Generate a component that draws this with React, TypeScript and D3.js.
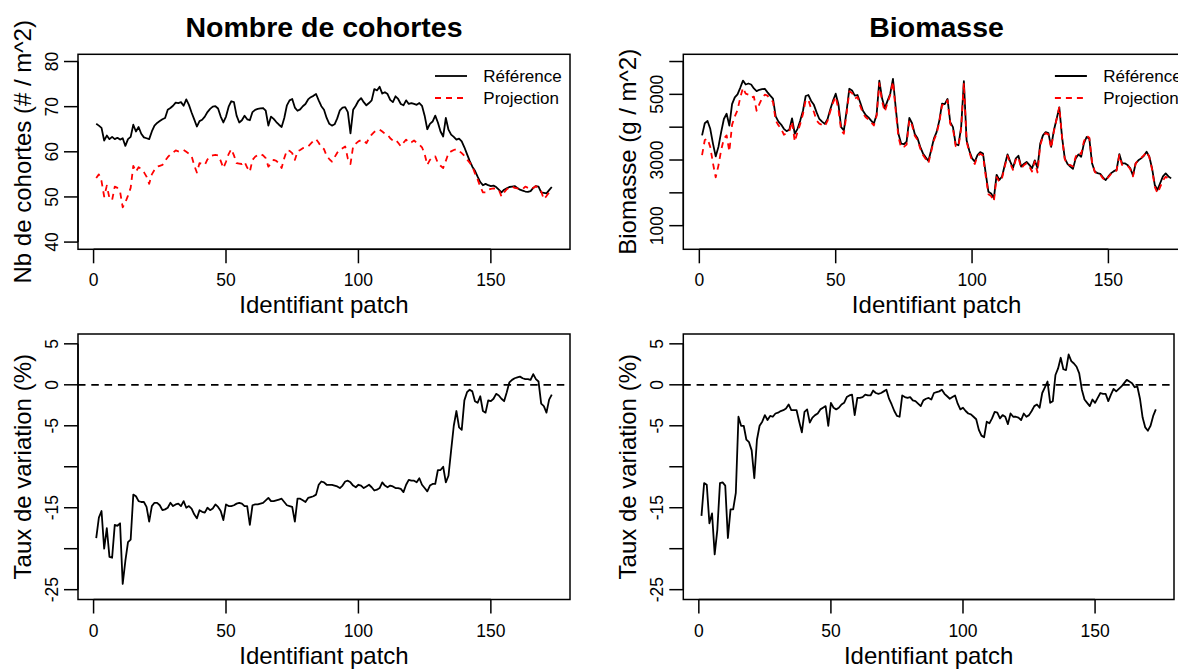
import React from "react";
import * as d3 from "d3";

// ---------- DATA ----------
const cohortRef = [66.2,65.8,65.3,62.5,63.6,62.8,63.3,62.8,63.1,62.7,
63.0,61.3,62.8,63.3,66.0,64.5,65.5,64.0,63.2,63.0,
62.8,64.5,65.8,66.4,66.8,67.2,67.5,69.3,69.7,70.2,
70.9,70.8,71.0,70.2,71.6,70.4,68.7,67.2,65.6,66.8,
67.1,67.8,68.8,69.5,70.0,70.1,69.6,67.8,66.5,67.8,
70.0,71.2,71.0,68.0,66.5,67.0,68.0,67.2,67.0,68.8,
69.3,69.5,69.6,69.7,69.1,65.8,67.8,67.3,66.6,66.0,
65.5,67.5,70.3,71.4,71.7,69.8,69.1,69.4,70.1,70.6,
71.6,72.1,72.4,72.8,71.4,70.1,69.3,67.5,66.2,65.8,
66.1,67.4,69.2,69.8,69.9,68.8,64.1,69.3,70.2,71.3,
71.9,71.0,70.3,70.8,71.4,73.9,73.6,74.4,72.9,73.2,
72.8,71.5,71.0,72.3,71.7,70.6,70.3,71.4,70.6,70.8,
70.6,70.4,70.8,70.2,68.0,65.0,66.2,66.7,68.0,66.5,
64.5,63.4,67.5,64.9,63.8,63.3,62.7,62.9,62.3,61.0,
59.5,58.0,56.7,55.8,54.5,53.3,52.6,52.9,52.6,52.4,
52.5,52.2,51.6,51.0,51.6,51.9,52.2,52.3,52.4,52.0,
51.6,51.4,51.2,51.1,51.3,52.0,52.4,52.3,51.0,50.9,
50.8,51.5,52.2];

const cohortProj = [54.2,55.0,53.5,50.1,52.5,49.7,49.3,52.3,52.0,51.2,
47.7,48.8,50.3,52.0,56.9,55.6,56.6,56.2,55.5,54.5,
52.9,55.0,56.0,56.7,56.9,57.1,58.0,58.8,59.4,59.8,
60.3,60.1,60.2,60.4,60.0,59.6,59.1,57.0,55.4,57.5,
57.3,57.1,58.3,59.0,59.2,59.3,59.2,58.0,56.4,57.8,
59.5,60.6,59.2,57.5,57.4,57.3,57.8,56.5,55.6,58.2,
58.9,59.3,59.5,59.2,58.6,56.7,57.5,58.2,58.0,57.4,
56.4,58.6,60.3,60.2,59.7,58.2,60.1,60.4,60.8,61.0,
61.2,61.8,62.4,62.8,62.0,61.0,60.6,59.1,58.4,57.8,
58.8,59.8,60.4,60.8,61.2,58.5,57.3,61.2,61.8,62.3,
62.6,62.5,61.9,63.0,63.8,64.4,64.8,64.9,64.5,64.0,
63.8,63.0,62.5,62.7,62.0,61.2,62.0,62.7,62.0,62.1,
62.5,62.0,61.6,61.0,59.5,57.1,58.2,58.8,59.0,57.5,
56.9,56.4,58.0,59.7,60.1,60.4,60.6,60.2,59.7,59.1,
58.3,57.6,56.8,55.2,53.9,52.3,51.0,51.0,51.6,51.8,
51.9,51.8,51.6,50.1,51.0,51.7,52.1,52.3,52.0,51.9,
51.8,51.7,52.3,52.0,51.7,52.0,52.4,51.8,51.2,49.5,
50.2,51.0,51.7];

const cohortVar = [-18.7,-16.2,-15.4,-20.0,-17.5,-21.0,-21.1,-17.1,-17.2,-16.9,
-24.3,-21.5,-19.2,-18.9,-13.4,-13.6,-14.2,-14.3,-14.3,-14.9,
-16.7,-14.8,-14.4,-14.4,-14.7,-15.3,-15.2,-15.0,-14.4,-14.8,
-14.6,-14.5,-14.8,-14.2,-15.0,-14.8,-15.1,-15.8,-16.3,-15.3,
-15.5,-15.6,-15.0,-15.3,-15.1,-14.6,-14.9,-15.4,-16.5,-14.6,
-14.8,-14.8,-14.7,-14.5,-14.4,-14.5,-14.8,-14.8,-17.1,-14.7,
-14.6,-14.6,-14.5,-14.4,-14.1,-13.8,-14.2,-14.2,-14.1,-14.0,
-13.9,-14.3,-14.7,-14.8,-14.9,-16.7,-13.9,-13.9,-14.1,-14.3,
-13.8,-13.7,-13.6,-13.4,-12.2,-11.8,-11.9,-12.2,-12.2,-12.2,
-12.3,-12.4,-12.6,-12.3,-11.8,-11.7,-11.9,-12.3,-12.5,-12.2,
-12.3,-12.6,-12.4,-12.2,-12.5,-12.9,-12.8,-12.6,-11.9,-12.3,
-12.5,-12.3,-12.4,-12.6,-12.6,-12.7,-13.1,-12.2,-11.6,-11.7,
-11.7,-11.9,-11.4,-12.2,-12.6,-13.0,-12.3,-12.1,-12.1,-10.4,
-10.4,-10.0,-11.9,-11.1,-8.0,-5.0,-3.2,-5.2,-5.5,-1.9,
-0.9,-0.6,-0.8,-2.0,-2.2,-1.4,-3.2,-3.4,-1.9,-2.0,
-1.7,-1.1,-1.3,-1.7,-2.0,-0.9,0.3,0.6,0.8,0.9,
1.0,0.8,0.7,0.7,0.6,1.3,0.7,0.4,-2.3,-2.6,
-3.4,-1.8,-1.2];

const biomRef = [3750,4120,4190,3950,3500,3110,3400,3850,4250,4410,
4050,4700,4910,5000,5200,5420,5300,5330,5300,5180,
5100,5140,5160,5170,5060,4960,4870,4330,4170,4080,
3950,3880,3920,4270,3800,3950,4200,4500,4950,4980,
4800,4680,4450,4250,4170,4100,4240,4540,4800,5020,
4700,4000,3900,4500,5170,5120,4960,4980,4750,4500,
4370,4300,4200,4110,4380,5420,4880,4580,4800,5020,
5470,4600,3800,3500,3480,3560,4280,4120,3790,3660,
3400,3200,3080,2970,3300,3650,3850,4200,4720,4700,
4860,4150,4000,3480,3450,4000,5400,3600,3280,3050,
2950,3150,3240,3200,2600,2030,1980,1830,2550,2390,
2500,2850,3170,2950,2760,3040,3130,2800,2880,2940,
2850,2750,2990,2760,3500,3750,3850,3820,3400,3900,
4250,4600,3700,3050,2880,2800,2730,3050,3170,3100,
3500,3700,3650,2900,2650,2600,2580,2470,2390,2500,
2600,2660,2700,3180,2900,2900,2850,2750,2530,2900,
2990,3050,3130,3250,3100,2750,2240,2090,2300,2500,
2590,2500,2440];

const biomProj = [3150,3610,3650,3400,2900,2470,2830,3300,3650,3750,
3260,4070,4330,4520,4900,5200,5020,4990,4900,4930,
4500,4700,4880,4990,4960,4850,4780,4200,4060,3950,
3770,3810,3880,4170,3560,3850,4100,4400,4830,4830,
4560,4470,4200,4110,4070,4030,4190,4480,4740,4930,
4550,3900,3800,4420,5090,5040,4870,4920,4650,4420,
4300,4240,4150,4050,4350,5340,4790,4470,4740,4980,
5390,4500,3700,3380,3400,3470,4220,4060,3740,3610,
3350,3150,3030,2900,3250,3600,3800,4150,4680,4660,
4820,4100,3960,3420,3400,3950,5350,3560,3240,2980,
2880,3120,3190,3140,2520,1960,1900,1740,2480,2340,
2450,2800,3130,2900,2700,3000,3090,2740,2840,2900,
2800,2650,2960,2620,3450,3720,3820,3780,3360,3870,
4240,4620,3680,3030,2850,2850,2800,3100,3240,3180,
3560,3740,3680,2930,2640,2560,2560,2440,2370,2480,
2580,2620,2680,3150,2850,2850,2830,2730,2500,2900,
2995,3065,3140,3250,3090,2720,2180,1990,2180,2380,
2490,2430,2370];

const biomVar = [-16.0,-12.0,-12.2,-16.9,-15.7,-20.7,-17.7,-12.0,-11.9,-12.3,
-18.7,-15.2,-15.2,-13.2,-3.9,-5.0,-5.0,-6.7,-7.0,-8.0,
-11.4,-6.7,-5.0,-4.5,-3.7,-4.3,-3.8,-3.9,-3.5,-3.4,
-3.2,-3.1,-2.9,-2.4,-3.1,-3.1,-3.1,-4.5,-5.8,-3.3,
-3.0,-4.6,-4.0,-3.7,-3.5,-3.0,-2.8,-2.6,-5.0,-2.2,
-2.8,-3.0,-2.8,-2.4,-2.2,-1.5,-1.3,-1.2,-3.7,-1.6,
-1.6,-1.5,-1.2,-1.3,-1.3,-0.7,-1.0,-1.1,-1.0,-0.8,
-0.6,-1.7,-2.4,-3.2,-3.8,-3.9,-1.3,-1.5,-1.6,-1.5,
-1.9,-2.0,-2.3,-2.6,-1.9,-1.7,-1.6,-1.8,-1.0,-0.9,
-0.8,-0.6,-1.1,-1.4,-1.7,-1.5,-1.3,-2.3,-3.0,-2.8,
-3.2,-3.5,-3.6,-3.9,-4.2,-5.5,-6.2,-6.4,-4.5,-4.7,
-4.1,-3.3,-3.4,-4.1,-3.7,-3.9,-4.8,-3.5,-3.9,-3.9,
-4.0,-4.3,-3.5,-3.9,-3.7,-3.2,-2.6,-2.4,-2.8,-1.0,
-0.3,0.4,-2.2,-2.0,1.2,2.0,3.3,1.9,1.8,3.7,
2.9,2.6,2.2,1.4,-0.6,-1.8,-2.2,-2.6,-1.8,-2.2,
-1.6,-1.0,-1.1,-1.1,-2.0,-1.2,-0.5,-0.8,-0.5,-0.2,
0.2,0.6,0.4,0.2,-0.3,-0.2,-1.7,-4.0,-5.2,-5.6,
-5.0,-3.8,-3.0];

const xTicks = [0, 50, 100, 150];
const cohortTicks = [40, 50, 60, 70, 80];
const cohortTickLabels = ["40", "50", "60", "70", "80"];
const biomTicks = [1000, 2000, 3000, 4000, 5000, 6000];
const biomTickLabels = ["1000", "", "3000", "", "5000", ""];
const varTicks = [-25, -20, -15, -10, -5, 0, 5];
const varTickLabels = ["-25", "", "-15", "", "-5", "0", "5"];
const legendLabels = ["Référence", "Projection"];

const FONT = "'Liberation Sans', Arial, Helvetica, sans-serif";

type Series = { values: number[]; color: string; dash?: string };

function Panel(props: {
  box: { l: number; r: number; t: number; b: number };
  yDomain: [number, number];
  yTicks: number[];
  yTickLabels: string[];
  series: Series[];
  title?: string;
  ylabel: string;
  legend?: boolean;
  hline?: boolean;
}) {
  const { box, yDomain, yTicks, yTickLabels, series, title, ylabel, legend, hline } = props;
  const x = d3.scaleLinear().domain([-5.88, 179.88]).range([box.l, box.r]);
  const y = d3.scaleLinear().domain(yDomain).range([box.b, box.t]);
  const line = d3
    .line<number>()
    .x((_, i) => x(i + 1))
    .y((d) => y(d));
  const tick = 14;
  const sw = 1.5;
  return (
    <g fontFamily={FONT}>
      {title && (
        <text x={(box.l + box.r) / 2} y={37} textAnchor="middle" fontSize={28.5} fontWeight="bold">
          {title}
        </text>
      )}
      {hline && (
        <line x1={box.l} x2={box.r} y1={y(0)} y2={y(0)} stroke="#000" strokeWidth={1.8} strokeDasharray="7.5,5.8" />
      )}
      {series.map((s, k) => (
        <path
          key={k}
          d={line(s.values) || ""}
          fill="none"
          stroke={s.color}
          strokeWidth={1.8}
          strokeDasharray={s.dash}
          strokeLinejoin="round"
        />
      ))}
      <rect x={box.l} y={box.t} width={box.r - box.l} height={box.b - box.t} fill="none" stroke="#000" strokeWidth={sw} />
      {/* x axis */}
      <line x1={x(xTicks[0])} x2={x(xTicks[xTicks.length - 1])} y1={box.b} y2={box.b} stroke="#000" strokeWidth={sw} />
      {xTicks.map((t) => (
        <g key={t}>
          <line x1={x(t)} x2={x(t)} y1={box.b} y2={box.b + tick} stroke="#000" strokeWidth={sw} />
          <text x={x(t)} y={box.b + 37} textAnchor="middle" fontSize={17.5}>
            {t}
          </text>
        </g>
      ))}
      <text x={(box.l + box.r) / 2} y={box.b + 64} textAnchor="middle" fontSize={24}>
        Identifiant patch
      </text>
      {/* y axis */}
      <line x1={box.l} x2={box.l} y1={y(yTicks[0])} y2={y(yTicks[yTicks.length - 1])} stroke="#000" strokeWidth={sw} />
      {yTicks.map((t, k) => (
        <g key={t}>
          <line x1={box.l - tick} x2={box.l} y1={y(t)} y2={y(t)} stroke="#000" strokeWidth={sw} />
          {yTickLabels[k] && (
            <text
              transform={`translate(${box.l - 20},${y(t)}) rotate(-90)`}
              textAnchor="middle"
              fontSize={17.5}
            >
              {yTickLabels[k]}
            </text>
          )}
        </g>
      ))}
      <text
        transform={`translate(${box.l - 47},${(box.t + box.b) / 2}) rotate(-90)`}
        textAnchor="middle"
        fontSize={24}
      >
        {ylabel}
      </text>
      {legend && (
        <g>
          {legendLabels.map((lab, k) => (
            <g key={lab}>
              <line
                x1={box.r - 135}
                x2={box.r - 103}
                y1={76 + k * 22}
                y2={76 + k * 22}
                stroke={series[k].color}
                strokeWidth={1.8}
                strokeDasharray={series[k].dash}
              />
              <text x={box.r - 86.7} y={76 + k * 22} dominantBaseline="central" fontSize={17}>
                {lab}
              </text>
            </g>
          ))}
        </g>
      )}
    </g>
  );
}

export default function App() {
  const dash = "6,5";
  return (
    <div style={{ position: "absolute", left: 0, top: 0, width: 1178, height: 670, overflow: "hidden", background: "#fff" }}>
      <svg width={1178} height={670} viewBox="0 0 1178 670">
        <rect width={1178} height={670} fill="#fff" />
        <Panel
          box={{ l: 78, r: 570, t: 54.3, b: 249.3 }}
          yDomain={[38.4, 81.6]}
          yTicks={cohortTicks}
          yTickLabels={cohortTickLabels}
          series={[
            { values: cohortRef, color: "#000" },
            { values: cohortProj, color: "#ff0000", dash },
          ]}
          title="Nombre de cohortes"
          ylabel="Nb de cohortes (# / m^2)"
          legend
        />
        <Panel
          box={{ l: 683.3, r: 1189.9, t: 54.3, b: 249.3 }}
          yDomain={[280, 6220]}
          yTicks={biomTicks}
          yTickLabels={biomTickLabels}
          series={[
            { values: biomRef, color: "#000" },
            { values: biomProj, color: "#ff0000", dash },
          ]}
          title="Biomasse"
          ylabel="Biomasse (g / m^2)"
          legend
        />
        <Panel
          box={{ l: 78, r: 570, t: 334, b: 599.5 }}
          yDomain={[-26.2, 6.2]}
          yTicks={varTicks}
          yTickLabels={varTickLabels}
          series={[{ values: cohortVar, color: "#000" }]}
          ylabel="Taux de variation (%)"
          hline
        />
        <Panel
          box={{ l: 683.3, r: 1174, t: 334, b: 599.5 }}
          yDomain={[-26.2, 6.2]}
          yTicks={varTicks}
          yTickLabels={varTickLabels}
          series={[{ values: biomVar, color: "#000" }]}
          ylabel="Taux de variation (%)"
          hline
        />
      </svg>
    </div>
  );
}
